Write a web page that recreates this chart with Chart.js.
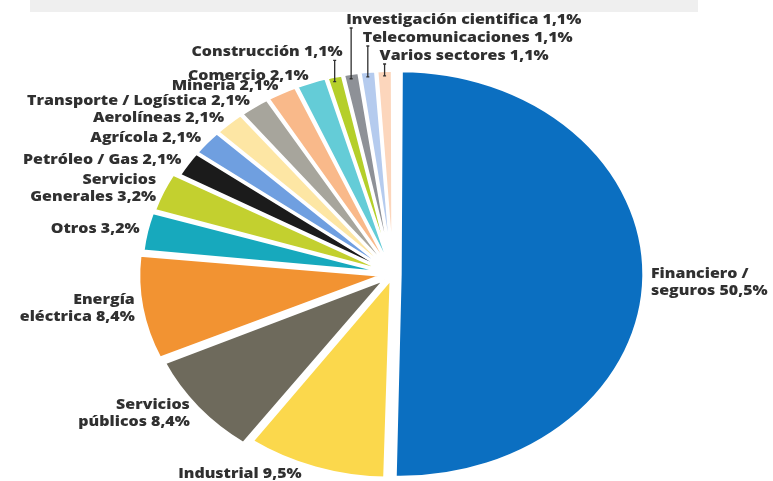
<!DOCTYPE html>
<html><head><meta charset="utf-8">
<script src="https://cdn.jsdelivr.net/npm/chart.js@4/dist/chart.umd.min.js"></script>
<style>
html,body{margin:0;padding:0;background:#fff;}
#wrap{position:relative;width:773px;height:481px;overflow:hidden;}
#band{position:absolute;left:30px;top:0;width:668px;height:12px;background:#efefef;}
canvas{position:absolute;left:0;top:0;}
</style></head><body>
<div id="wrap"><div id="band"></div><canvas id="c" width="773" height="481"></canvas></div>
<script>
// ---- data ----
const categories = ['Financiero /\nseguros','Industrial','Servicios\npúblicos','Energía\neléctrica','Otros','Servicios\nGenerales','Petróleo / Gas','Agrícola','Aerolíneas','Transporte / Logística','Minería','Comercio','Construcción','Investigación cientifica','Telecomunicaciones','Varios sectores'];
const shares = [50.5, 9.5, 8.4, 8.4, 3.2, 3.2, 2.1, 2.1, 2.1, 2.1, 2.1, 2.1, 1.1, 1.1, 1.1, 1.1];

// ---- styles ----
const sliceColors = ['#0b6fc1','#fbd84c','#6e6a5c','#f29332','#17a9bd','#c3d02f','#1b1b1b','#6f9fe0','#fde6a4','#a7a59c','#f9b98a','#64ccd7','#b5cf2a','#8e9197','#b5cbee','#fcd6bc'];
const sliceOffsets = [24, 20, 36, 40, 28, 26, 14, 14, 14, 14, 14, 14, 13, 13, 13, 13];
const leaderLabels = {12:{level:1.8, side:'left'}, 13:{level:0, side:'right'}, 14:{level:1, side:'right'}, 15:{level:2, side:'right'}};
const STRETCH = 1.2;
const TEXT_STRETCH = 1.14;
const FONT = '800 14px "Open Sans"';
const TEXT_COLOR = '#303030';

function fmt(v){ return v.toFixed(1).replace('.', ',') + '%'; }

const ellipsePlugin = {
  id: 'ellipse',
  beforeDatasetsDraw(chart){
    const a = chart.getDatasetMeta(0).data[0];
    const ctx = chart.ctx;
    ctx.save();
    ctx.translate(a.x, 0);
    ctx.scale(STRETCH, 1);
    ctx.translate(-a.x, 0);
  },
  afterDatasetsDraw(chart){ chart.ctx.restore(); }
};

function wideText(ctx, t, x, y){
  ctx.save();
  ctx.translate(x, y);
  ctx.scale(TEXT_STRETCH, 1);
  ctx.fillText(t, 0, 0);
  ctx.restore();
}

const labelPlugin = {
  id: 'sliceLabels',
  afterDraw(chart){
    const ctx = chart.ctx;
    const arcs = chart.getDatasetMeta(0).data;
    ctx.save();
    ctx.font = FONT;
    ctx.fillStyle = TEXT_COLOR;
    ctx.strokeStyle = TEXT_COLOR;
    ctx.textBaseline = 'middle';
    arcs.forEach((arc, i) => {
      const p = arc.getProps(['x','y','startAngle','endAngle','outerRadius'], true);
      const shift = (arc.options.offset || 0) / 4;           // Chart.js arc translation
      const circ = p.endAngle - p.startAngle;
      const grow = shift * (1 - Math.sin(Math.min(Math.PI, circ)));
      const Rv = p.outerRadius + shift + grow;                // visible outer reach along bisector
      const mid = (p.startAngle + p.endAngle) / 2;
      const dx = Math.cos(mid), dy = Math.sin(mid);
      const lines = categories[i].split('\n');
      lines[lines.length-1] += ' ' + fmt(shares[i]);
      const lead = leaderLabels[i];
      if (lead) {
        const lx = p.x + STRETCH * Rv * dx;
        const ly = p.y + Rv * dy + 5;
        const rowY = 20 + lead.level * 18;
        ctx.lineWidth = 1.3;
        ctx.beginPath();
        ctx.moveTo(lx, rowY + 8); ctx.lineTo(lx, ly);
        ctx.moveTo(lx - 1.5, rowY + 8); ctx.lineTo(lx + 1.5, rowY + 8);
        ctx.moveTo(lx - 1.5, ly); ctx.lineTo(lx + 1.5, ly);
        ctx.stroke();
        if (lead.side === 'right') { ctx.textAlign = 'left'; wideText(ctx, lines[0], lx - 5, rowY); }
        else { ctx.textAlign = 'right'; wideText(ctx, lines[0], lx + 8, rowY); }
      } else {
        const r = Rv + 6;
        const down = Math.max(0, dy);
        const ax = p.x + STRETCH * r * dx - (dx < 0 ? 14 * Math.pow(down, 4) : 0);
        const ay = p.y + r * dy - 1 + 6 * down * Math.max(0, -dx) + 7 * Math.max(0, dx);
        ctx.textAlign = dx < 0 ? 'right' : 'left';
        const lh = 17;
        const y0 = ay - (lines.length - 1) * lh / 2;
        lines.forEach((t, k) => wideText(ctx, t, ax, y0 + k * lh));
      }
    });
    ctx.restore();
  }
};

new Chart(document.getElementById('c'), {
  type: 'pie',
  data: {
    labels: categories,
    datasets: [{
      data: shares,
      backgroundColor: sliceColors,
      borderColor: '#ffffff',
      borderWidth: 2.5,
      offset: sliceOffsets,
      clip: false
    }]
  },
  options: {
    responsive: false,
    animation: false,
    events: [],
    radius: 197,
    layout: { padding: { left: 13, right: 0, top: 67, bottom: 0 } },
    plugins: { legend: { display: false }, tooltip: { enabled: false } }
  },
  plugins: [ellipsePlugin, labelPlugin]
});
</script>
</body></html>
